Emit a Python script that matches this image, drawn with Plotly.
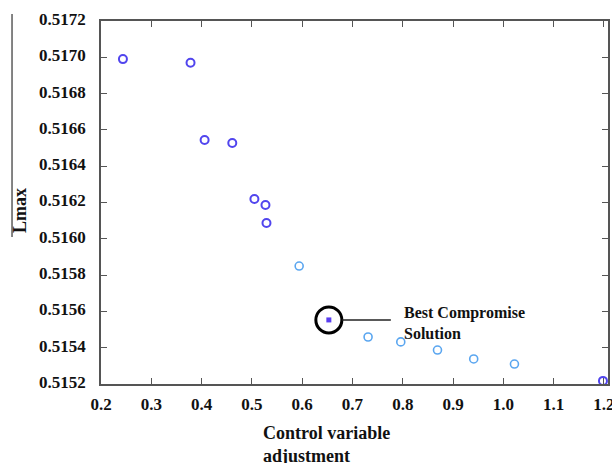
import plotly.graph_objects as go

# Data
dark_x = [0.2436, 0.378, 0.406, 0.461, 0.505, 0.527, 0.529, 1.198]
dark_y = [0.51699, 0.51697, 0.516544, 0.516528, 0.516219, 0.516186, 0.516087, 0.515217]
light_x = [0.594, 0.731, 0.796, 0.869, 0.941, 1.022]
light_y = [0.51585, 0.515459, 0.515432, 0.515387, 0.515338, 0.51531]
best_x = [0.653]
best_y = [0.515553]

x_ticks = [0.2, 0.3, 0.4, 0.5, 0.6, 0.7, 0.8, 0.9, 1.0, 1.1, 1.2]
x_ticktext = ["0.2", "0.3", "0.4", "0.5", "0.6", "0.7", "0.8", "0.9", "1.0", "1.1", "1.2"]
y_ticks = [0.5152, 0.5154, 0.5156, 0.5158, 0.5160, 0.5162, 0.5164, 0.5166, 0.5168, 0.5170, 0.5172]
y_ticktext = ["0.5152", "0.5154", "0.5156", "0.5158", "0.5160", "0.5162",
              "0.5164", "0.5166", "0.5168", "0.5170", "0.5172"]

SERIF = "Liberation Serif, Times New Roman, serif"
AX = "#555555"

fig = go.Figure()
fig.add_trace(go.Scatter(
    x=dark_x, y=dark_y, mode="markers", cliponaxis=False,
    marker=dict(symbol="circle-open", size=8, color="#5145ee",
                line=dict(width=2, color="#5145ee")),
    showlegend=False))
fig.add_trace(go.Scatter(
    x=light_x, y=light_y, mode="markers", cliponaxis=False,
    marker=dict(symbol="circle-open", size=8, color="#5aa6f0",
                line=dict(width=1.6, color="#5aa6f0")),
    showlegend=False))
fig.add_trace(go.Scatter(
    x=best_x, y=best_y, mode="markers", cliponaxis=False,
    marker=dict(symbol="square", size=5, color="#5a3ff0"),
    showlegend=False))

# highlight circle, leader line and label around best compromise
fig.add_shape(type="circle", xref="x", yref="y",
              xsizemode="pixel", ysizemode="pixel",
              xanchor=best_x[0], yanchor=best_y[0],
              x0=-13, x1=13, y0=-13, y1=13,
              line=dict(color="black", width=3))
fig.add_shape(type="line", xref="x", yref="y",
              xsizemode="pixel", ysizemode="pixel",
              xanchor=best_x[0], yanchor=best_y[0],
              x0=13, x1=62, y0=0, y1=0,
              line=dict(color="#222222", width=1.5))
fig.add_annotation(x=best_x[0], y=best_y[0], xref="x", yref="y",
                   xshift=73, yshift=-3, xanchor="left", yanchor="middle",
                   align="left", showarrow=False,
                   text="Best Compromise<br>Solution",
                   font=dict(family=SERIF, size=16, color="#111111", weight="bold"))

# x-axis title (left-aligned two lines)
fig.add_annotation(x=0.3156, y=-0.166, xref="paper", yref="paper",
                   xanchor="left", yanchor="middle", align="left",
                   showarrow=False,
                   text="Control variable<br>adjustment",
                   font=dict(family=SERIF, size=18, color="#111111", weight="bold"))
# y-axis title with line
fig.add_annotation(x=-0.160, y=0.479, xref="paper", yref="paper",
                   xanchor="center", yanchor="middle", textangle=-90,
                   showarrow=False, text="Lmax",
                   font=dict(family=SERIF, size=18, color="#111111", weight="bold"))
fig.add_shape(type="line", xref="paper", yref="paper",
              x0=-0.1755, x1=-0.1755, y0=0.405, y1=1.019,
              line=dict(color="#333333", width=1.2))

fig.update_xaxes(range=[0.2, 1.208], tickvals=x_ticks, ticktext=x_ticktext,
                 automargin=False, ticklabeloverflow="allow",
                 showgrid=False, zeroline=False, showline=True, linecolor=AX,
                 linewidth=1.5, mirror="ticks", ticks="inside", ticklen=6,
                 tickcolor=AX, tickwidth=1.2, ticklabelstandoff=4,
                 tickfont=dict(family=SERIF, size=17, color="#111111", weight="bold"))
fig.update_yaxes(range=[0.5152, 0.5172], tickvals=y_ticks, ticktext=y_ticktext,
                 automargin=False, ticklabeloverflow="allow",
                 showgrid=False, zeroline=False, showline=True, linecolor=AX,
                 linewidth=1.5, mirror="ticks", ticks="inside", ticklen=6,
                 tickcolor=AX, tickwidth=1.2, ticklabelstandoff=10,
                 ticklabelshift=-2,
                 tickfont=dict(family=SERIF, size=17, color="#111111", weight="bold"))

fig.update_layout(width=612, height=463,
                  margin=dict(l=101, r=4, t=21, b=79, autoexpand=False),
                  paper_bgcolor="white", plot_bgcolor="white")

fig.write_html("out.html", config={"displayModeBar": False},
               post_script="document.body.style.margin='0';"
                           "document.body.style.overflow='hidden';"
                           "document.documentElement.style.overflow='hidden';")
